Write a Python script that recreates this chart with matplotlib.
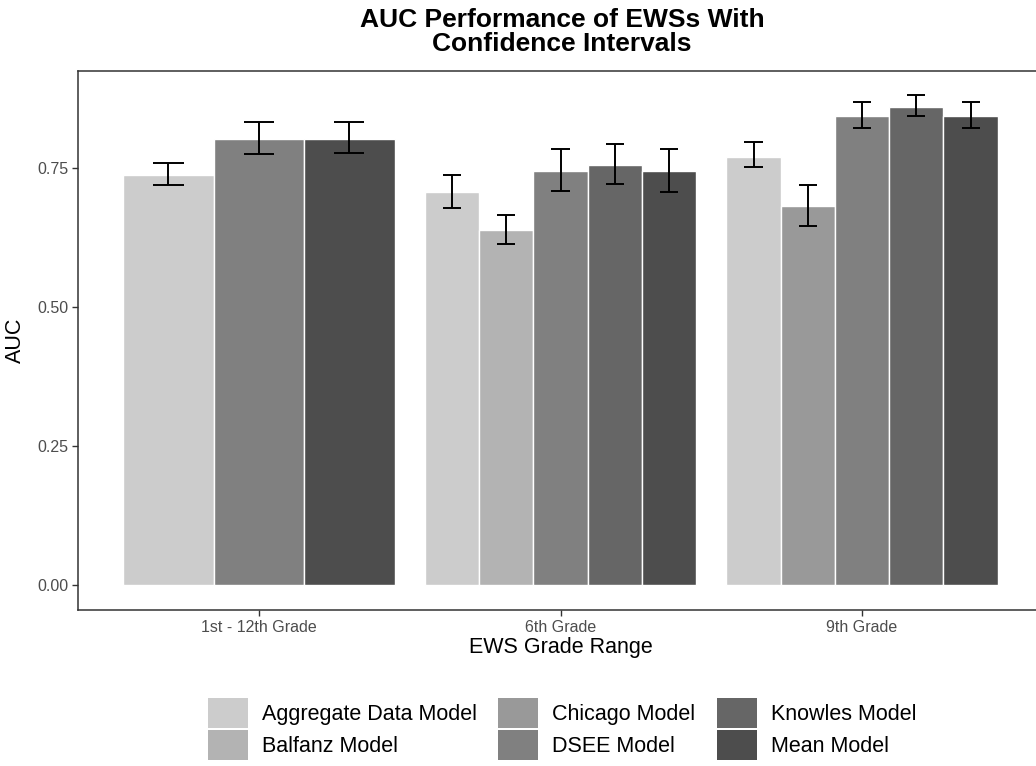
import numpy as np
import matplotlib.pyplot as plt
from matplotlib.patches import Patch

plt.rcParams["font.family"] = ["Liberation Sans", "DejaVu Sans"]

grades = ["1st - 12th Grade", "6th Grade", "9th Grade"]
models = ["Aggregate Data Model", "Balfanz Model", "Chicago Model",
          "DSEE Model", "Knowles Model", "Mean Model"]
colors = ["#CCCCCC", "#B3B3B3", "#999999", "#808080", "#666666", "#4D4D4D"]

nan = np.nan
# rows = models, columns = grades (nan = model not evaluated for that range)
auc = np.array([
    [0.737, 0.706, 0.770],
    [nan,   0.638, nan],
    [nan,   nan,   0.681],
    [0.802, 0.745, 0.844],
    [nan,   0.755, 0.860],
    [0.802, 0.744, 0.843],
])
ci_low = np.array([
    [0.719, 0.678, 0.751],
    [nan,   0.613, nan],
    [nan,   nan,   0.646],
    [0.775, 0.708, 0.822],
    [nan,   0.721, 0.843],
    [0.777, 0.707, 0.822],
])
ci_high = np.array([
    [0.759, 0.737, 0.796],
    [nan,   0.665, nan],
    [nan,   nan,   0.719],
    [0.833, 0.785, 0.869],
    [nan,   0.793, 0.882],
    [0.833, 0.785, 0.869],
])

fig = plt.figure(figsize=(10.36, 7.66), dpi=100)
ax = fig.add_axes([78 / 1036, 156 / 766, 965 / 1036, 539.3 / 766])

# dodged bars: each grade shares 0.9 of a unit between the models it has
for j in range(len(grades)):
    idx = [i for i in range(len(models)) if not np.isnan(auc[i, j])]
    n = len(idx)
    w = 0.9 / n
    for k, i in enumerate(idx):
        x = (j + 1) + (k - (n - 1) / 2) * w
        ax.bar(x, auc[i, j], width=w, color=colors[i], edgecolor="white",
               linewidth=1.0, zorder=2)
        ax.vlines(x, ci_low[i, j], ci_high[i, j], color="black",
                  linewidth=1.4, zorder=3)
        ax.hlines([ci_low[i, j], ci_high[i, j]], x - w / 6, x + w / 6,
                  color="black", linewidth=1.4, zorder=3)

ax.set_xlim(0.4, 3.6)
ax.set_ylim(-0.045, 0.925)
ax.set_xticks([1, 2, 3])
ax.set_xticklabels(grades)
ax.set_yticks([0, 0.25, 0.5, 0.75])
ax.set_yticklabels(["0.00", "0.25", "0.50", "0.75"])
ax.tick_params(colors="#333333", labelcolor="#4D4D4D", labelsize=11.5,
               length=4, width=1.0, pad=3)
for s in ax.spines.values():
    s.set_color("#333333")
    s.set_linewidth(1.1)

ax.set_xlabel("EWS Grade Range", fontsize=15.5, labelpad=2)
ax.set_ylabel("AUC", fontsize=15.5, labelpad=8)
fig.text(562 / 1036, 1 - 32 / 766, "AUC Performance of EWSs With\nConfidence Intervals",
         ha="center", va="center", fontsize=19, fontweight="bold", linespacing=1.05)

handles = [Patch(facecolor=c, edgecolor="none") for c in colors]
fig.legend(handles, models, ncol=3, loc="center", bbox_to_anchor=(562 / 1036, 37 / 766),
           frameon=False, fontsize=15.5, handlelength=1.85, handleheight=1.77,
           handletextpad=0.65, labelspacing=0.1, columnspacing=1.0,
           borderpad=0, borderaxespad=0)

fig.savefig("out.png", dpi=100, facecolor="white")
